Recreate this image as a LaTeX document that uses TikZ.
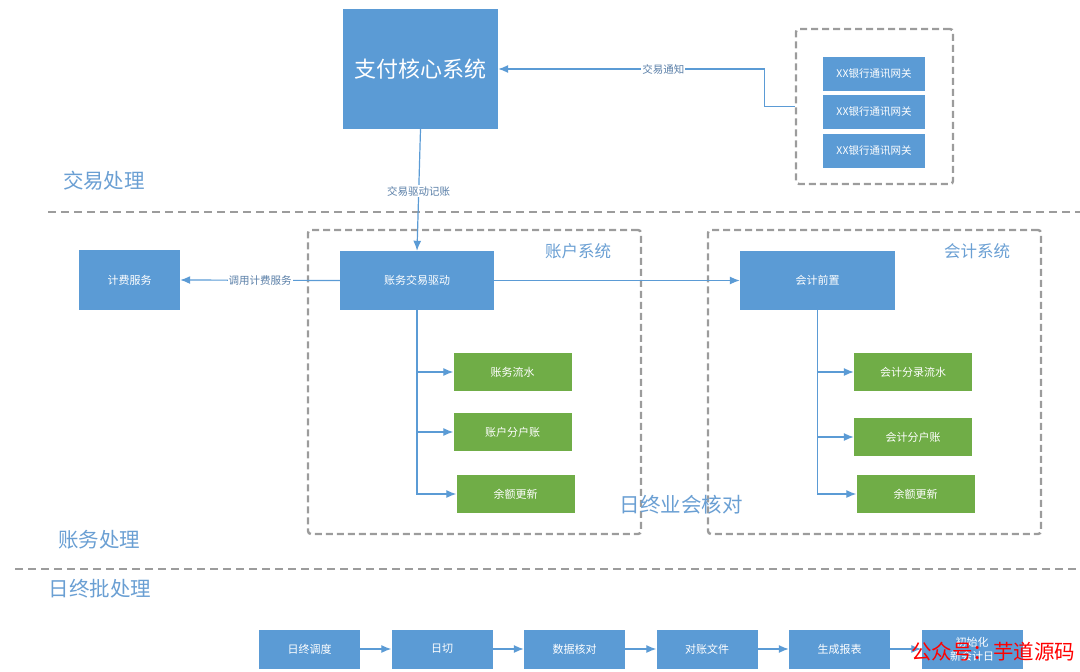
\documentclass[tikz,border=0pt]{standalone}
\usepackage{fontspec}
\setmainfont{Noto Sans CJK SC}
\usetikzlibrary{arrows.meta}
\definecolor{boxblue}{HTML}{5B9BD5}
\definecolor{boxgreen}{HTML}{70AD47}
\definecolor{grpgray}{HTML}{9C9C9C}
\definecolor{lblblue}{HTML}{6A9FD3}
\definecolor{edgetext}{HTML}{5A7FA8}
\begin{document}
\begin{tikzpicture}[x=1pt,y=-1pt,>={Latex[length=10pt,width=8pt]},
  bluebox/.style={fill=boxblue,text=white,inner sep=0pt,align=center,font=\fontsize{11}{14}\selectfont},
  greenbox/.style={fill=boxgreen,text=white,inner sep=0pt,minimum width=118pt,minimum height=38pt,font=\fontsize{11}{14}\selectfont},
  grpbox/.style={draw=grpgray,line width=2.4pt,dash pattern=on 7pt off 4pt,rounded corners=3pt,inner sep=0pt},
  secline/.style={draw=grpgray,line width=2pt,dash pattern=on 8pt off 5pt},
  arr/.style={->,draw=boxblue,color=boxblue,line width=1.2pt},
  seclabel/.style={text=lblblue,font=\fontsize{20.5}{24}\selectfont},
  grplabel/.style={text=lblblue,font=\fontsize{16.5}{20}\selectfont},
  edgelabel/.style={fill=white,text=edgetext,inner sep=1pt,font=\fontsize{10.5}{12}\selectfont}]
\useasboundingbox (0,0) rectangle (1080,672);

% section lines
\draw[secline] (48,212)--(1080,212);
\draw[secline] (15,569)--(1080,569);
\node[seclabel] (trade) at (104,181) {交易处理};
\node[seclabel] (booking) at (99,540) {账务处理};
\node[seclabel] (batch) at (100,589) {日终批处理};

% payment core and bank gateways
\node[bluebox,minimum width=155pt,minimum height=120pt,font=\fontsize{22}{26}\selectfont] (core) at (420.5,69) {支付核心系统};
\node[grpbox,minimum width=157pt,minimum height=155pt] (gw) at (874.5,106.5) {};
\foreach \y [count=\i] in {74,112,151}
{
    \node[bluebox,minimum width=102pt,minimum height=34pt,font=\fontsize{10.5}{12}\selectfont] (gate\i) at (874,\y) {XX银行通讯网关};
}
\draw[arr] (gw.west)--++(-30,0)|-node[edgelabel,pos=0.69]{交易通知}(core.east);

% account system
\node[grpbox,minimum width=333pt,minimum height=304pt] (accgrp) at (474.5,382) {};
\node[grplabel] (acclbl) at (578,251) {账户系统};
\node[bluebox,minimum width=154pt,minimum height=59pt] (drive) at (417,280.5) {账务交易驱动};
\node[greenbox] (acc1) at (512.5,372) {账务流水};
\node[greenbox] (acc2) at (512.5,432) {账户分户账};
\node[greenbox] (acc3) at (515.5,494) {余额更新};

% accounting system
\node[grpbox,minimum width=333pt,minimum height=304pt] (ledgrp) at (874.5,382) {};
\node[grplabel] (ledlbl) at (977,251) {会计系统};
\node[bluebox,minimum width=155pt,minimum height=59pt] (pre) at (817.5,280.5) {会计前置};
\node[greenbox] (ent1) at (913,372) {会计分录流水};
\node[greenbox] (ent2) at (913,437) {会计分户账};
\node[greenbox] (ent3) at (915.5,494) {余额更新};

\node[bluebox,minimum width=101pt,minimum height=60pt] (fee) at (129.5,280) {计费服务};
\node[text=lblblue,font=\fontsize{20.5}{24}\selectfont] (check) at (681,505) {日终业会核对};

\draw[arr] (core.south)--node[edgelabel,pos=0.51]{交易驱动记账}(drive.north);
\draw[arr] (drive.west)--node[edgelabel]{调用计费服务}(fee.east);
\draw[arr] (drive.east)--(pre.west);
\foreach \n in {acc1,acc2,acc3}
    \draw[arr] (drive.south)|-(\n.west);
\foreach \n in {ent1,ent2,ent3}
    \draw[arr] (pre.south)|-(\n.west);

% end of day batch
\foreach \t [count=\i] in {日终调度,日切,数据核对,对账文件,生成报表,{初始化\\新会计日}}
{
    \node[bluebox,minimum width=101pt,minimum height=39pt] (eod\i) at ({309.5+132.5*(\i-1)},649) {\t};
}
\foreach \a/\b in {1/2,2/3,3/4,4/5,5/6}
    \draw[arr] (eod\a)--(eod\b);

\node[text=red,font=\fontsize{20.5}{24}\selectfont] (mark) at (993,652) {公众号：芋道源码};
\end{tikzpicture}
\end{document}
